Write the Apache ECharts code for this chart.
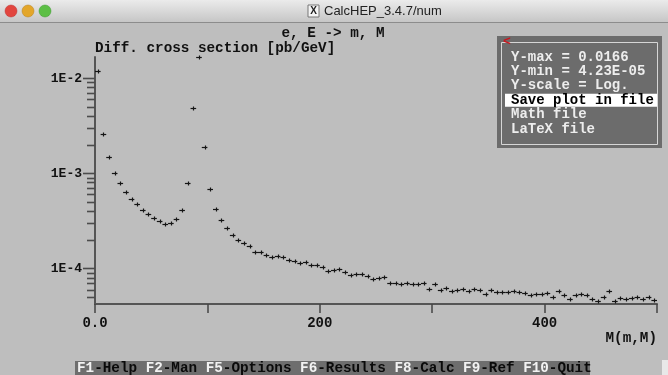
<!DOCTYPE html>
<html>
<head>
<meta charset="utf-8">
<script src="https://cdn.jsdelivr.net/npm/echarts@6/dist/echarts.min.js"></script>
<style>
  html, body { margin: 0; padding: 0; background: #bebebe; }
  #main { width: 668px; height: 375px; }
</style>
</head>
<body>
<div id="main"></div>
<script>
// 横轴：M(m,M) 分箱，每箱 5 GeV，共 100 箱
const binWidth = 5;
// 每箱的微分截面 [pb/GeV]
const xsec = [
  1.17e-2, 2.61e-3, 1.47e-3, 1.01e-3, 7.85e-4, 6.37e-4, 5.34e-4, 4.73e-4, 4.12e-4, 3.69e-4,
  3.35e-4, 3.16e-4, 2.90e-4, 3.01e-4, 3.27e-4, 4.12e-4, 7.91e-4, 4.84e-3, 1.66e-2, 1.89e-3,
  6.79e-4, 4.20e-4, 3.21e-4, 2.67e-4, 2.23e-4, 2.00e-4, 1.83e-4, 1.72e-4, 1.47e-4, 1.48e-4,
  1.39e-4, 1.32e-4, 1.35e-4, 1.32e-4, 1.24e-4, 1.21e-4, 1.13e-4, 1.16e-4, 1.08e-4, 1.09e-4,
  1.03e-4, 9.50e-5, 9.55e-5, 9.90e-5, 9.14e-5, 8.57e-5, 8.78e-5, 8.67e-5, 8.35e-5, 7.65e-5,
  7.85e-5, 8.17e-5, 7.06e-5, 7.06e-5, 6.84e-5, 7.06e-5, 6.90e-5, 6.90e-5, 6.95e-5, 6.07e-5,
  6.84e-5, 5.92e-5, 6.26e-5, 5.77e-5, 5.87e-5, 6.10e-5, 5.77e-5, 6.01e-5, 5.87e-5, 5.42e-5,
  5.95e-5, 5.65e-5, 5.60e-5, 5.64e-5, 5.78e-5, 5.64e-5, 5.47e-5, 5.25e-5, 5.41e-5, 5.41e-5,
  5.55e-5, 4.96e-5, 5.82e-5, 5.25e-5, 4.80e-5, 5.25e-5, 5.41e-5, 5.21e-5, 4.80e-5, 4.50e-5,
  4.96e-5, 5.82e-5, 4.50e-5, 4.93e-5, 4.80e-5, 4.86e-5, 5.00e-5, 4.73e-5, 5.04e-5, 4.65e-5
];
// 坐标轴范围
const xMin = 0, xMax = 500;
const yMin = 4.23e-5, yMax = 0.0166;
// 刻度标签
const xLabelVals = [0, 200, 400];
const xLabelText = ["0.0", "200", "400"];
const yMajorVals = [1e-4, 1e-3, 1e-2];
const yMajorText = ["1E-4", "1E-3", "1E-2"];
const yDecades = [1e-5, 1e-4, 1e-3, 1e-2];
const yMinorMult = [2, 3, 4, 5, 6, 7, 8, 9];
// 菜单文字
const menuLines = ["Y-max = 0.0166", "Y-min = 4.23E-05", "Y-scale = Log.", "Save plot in file", "Math file", "LaTeX file"];
const menuSel = 3;
const fkeys = [["F1", "-Help "], ["F2", "-Man "], ["F5", "-Options "], ["F6", "-Results "], ["F8", "-Calc "], ["F9", "-Ref "], ["F10", "-Quit"]];

const MONO = "'Liberation Mono', 'DejaVu Sans Mono', monospace";

// 数据点
const pts = xsec.map((v, i) => [i * binWidth, (i + 1) * binWidth, v]);

// y轴刻度（长短）
const yTicks = [];
yMajorVals.forEach((v, i) => yTicks.push([0, v, 12, yMajorText[i]]));
yDecades.forEach(d => {
  yMinorMult.forEach(m => {
    const v = d * m;
    if (v > yMin && v < yMax) yTicks.push([0, v, 8, ""]);
  });
});

const chartObj = echarts.init(document.getElementById("main"));

const menuEls = [];
menuEls.push({ type: "rect", shape: { x: 497, y: 36, width: 165, height: 112 }, style: { fill: "#6c6c6c" }, z: 10 });
menuEls.push({ type: "rect", shape: { x: 501.5, y: 42.5, width: 156, height: 102 }, style: { fill: "none", stroke: "#d6d6d6", lineWidth: 1 }, z: 11 });
menuEls.push({ type: "text", style: { text: "<", x: 503, y: 42, font: "bold 13px " + MONO, fill: "#c8161d", textVerticalAlign: "middle" }, z: 13 });
menuLines.forEach((t, i) => {
  const cy = 57 + i * 14.4;
  if (i === menuSel) {
    menuEls.push({ type: "rect", shape: { x: 505, y: cy - 6.5, width: 152, height: 13 }, style: { fill: "#ffffff" }, z: 12 });
  }
  menuEls.push({
    type: "text",
    style: { text: t, x: 511, y: cy, font: "bold 14px " + MONO, fill: i === menuSel ? "#000" : "#ededed", textVerticalAlign: "middle" },
    z: 13
  });
});

let fkText = "";
fkeys.forEach(k => { fkText += "{k|" + k[0] + "}{n|" + k[1] + "}"; });

const option = {
  animation: false,
  backgroundColor: "#bebebe",
  grid: { left: 95, top: 57, width: 562, height: 247 },
  xAxis: {
    type: "value",
    min: xMin,
    max: xMax,
    interval: 100,
    axisLine: { onZero: false, lineStyle: { color: "#555", width: 2 } },
    axisTick: { length: 9, lineStyle: { color: "#444", width: 1.5 } },
    axisLabel: {
      margin: 12,
      color: "#111",
      fontFamily: MONO,
      fontWeight: "bold",
      fontSize: 14,
      formatter: function (v) {
        const i = xLabelVals.indexOf(v);
        return i >= 0 ? xLabelText[i] : "";
      }
    },
    splitLine: { show: false }
  },
  yAxis: {
    type: "log",
    logBase: 10,
    min: yMin,
    max: yMax,
    axisLine: { show: true, onZero: false, lineStyle: { color: "#555", width: 2 } },
    axisTick: { show: false },
    axisLabel: { show: false },
    splitLine: { show: false }
  },
  graphic: [
    // 标题栏
    { type: "rect", shape: { x: 0, y: 0, width: 668, height: 22 }, style: { fill: new echarts.graphic.LinearGradient(0, 0, 0, 1, [{ offset: 0, color: "#ebebeb" }, { offset: 1, color: "#c6c6c6" }]) } },
    { type: "line", shape: { x1: 0, y1: 22.5, x2: 668, y2: 22.5 }, style: { stroke: "#8c8c8c", lineWidth: 1 } },
    { type: "circle", shape: { cx: 11, cy: 11, r: 6 }, style: { fill: "#e2463f", stroke: "#b33", lineWidth: 0.5 } },
    { type: "circle", shape: { cx: 28, cy: 11, r: 6 }, style: { fill: "#e3a62a", stroke: "#b8801c", lineWidth: 0.5 } },
    { type: "circle", shape: { cx: 45, cy: 11, r: 6 }, style: { fill: "#5cbf45", stroke: "#3c9630", lineWidth: 0.5 } },
    { type: "rect", shape: { x: 308, y: 5, width: 11, height: 12 }, style: { fill: "#f4f4f4", stroke: "#777", lineWidth: 1 } },
    { type: "text", style: { text: "X", x: 313.5, y: 11.5, font: "bold 10px 'Liberation Sans'", fill: "#222", textAlign: "center", textVerticalAlign: "middle" } },
    { type: "text", style: { text: "CalcHEP_3.4.7/num", x: 324, y: 11.5, font: "13px 'Liberation Sans', 'DejaVu Sans'", fill: "#222", textVerticalAlign: "middle" } },
    // 图标题
    { type: "text", style: { text: "e, E -> m, M", x: 333, y: 33, font: "bold 14.3px " + MONO, fill: "#111", textAlign: "center", textVerticalAlign: "middle" } },
    { type: "text", style: { text: "Diff. cross section [pb/GeV]", x: 95, y: 48, font: "bold 14.3px " + MONO, fill: "#111", textVerticalAlign: "middle" } },
    { type: "text", style: { text: "M(m,M)", x: 657, y: 338, font: "bold 14.3px " + MONO, fill: "#111", textAlign: "right", textVerticalAlign: "middle" } },
    // 底部功能键栏
    { type: "rect", shape: { x: 75, y: 361, width: 515, height: 14 }, style: { fill: "#6e6e6e" } },
    {
      type: "text",
      style: {
        text: fkText, x: 77, y: 368, font: "bold 14.3px " + MONO, textVerticalAlign: "middle",
        rich: { k: { fill: "#f2f2f2", font: "bold 14.3px " + MONO }, n: { fill: "#0a0a0a", font: "bold 14.3px " + MONO } }
      }
    },
    { type: "rect", shape: { x: 662, y: 360, width: 6, height: 15 }, style: { fill: "#e8e8e8" } }
  ].concat(menuEls),
  series: [
    {
      type: "custom",
      name: "ticks",
      coordinateSystem: "cartesian2d",
      clip: false,
      silent: true,
      data: yTicks,
      encode: { x: 0, y: 1 },
      renderItem: function (params, api) {
        const t = yTicks[params.dataIndex];
        const p = api.coord([0, t[1]]);
        const y = Math.round(p[1]) + 0.5;
        const ch = [{ type: "line", shape: { x1: p[0] - t[2], y1: y, x2: p[0], y2: y }, style: { stroke: "#4c4c4c", lineWidth: 1.6 } }];
        if (t[3]) {
          ch.push({ type: "text", style: { text: t[3], x: p[0] - 13, y: y, font: "bold 13px " + MONO, fill: "#111", textAlign: "right", textVerticalAlign: "middle" } });
        }
        return { type: "group", children: ch };
      }
    },
    {
      type: "custom",
      name: "dsigma",
      coordinateSystem: "cartesian2d",
      clip: false,
      data: pts,
      encode: { x: [0, 1], y: 2 },
      renderItem: function (params, api) {
        const a = api.coord([api.value(0), api.value(2)]);
        const b = api.coord([api.value(1), api.value(2)]);
        const y = Math.round(a[1]) + 0.5;
        const xm = Math.round((a[0] + b[0]) / 2) + 0.5;
        const st = { stroke: "#151515", lineWidth: 1.2 };
        return {
          type: "group",
          children: [
            { type: "line", shape: { x1: a[0], y1: y, x2: b[0], y2: y }, style: st },
            { type: "line", shape: { x1: xm, y1: y - 2, x2: xm, y2: y + 2 }, style: st }
          ]
        };
      }
    }
  ]
};

chartObj.setOption(option, true);
window.addEventListener("resize", () => {
  chartObj.resize();
});
</script>
</body>
</html>
